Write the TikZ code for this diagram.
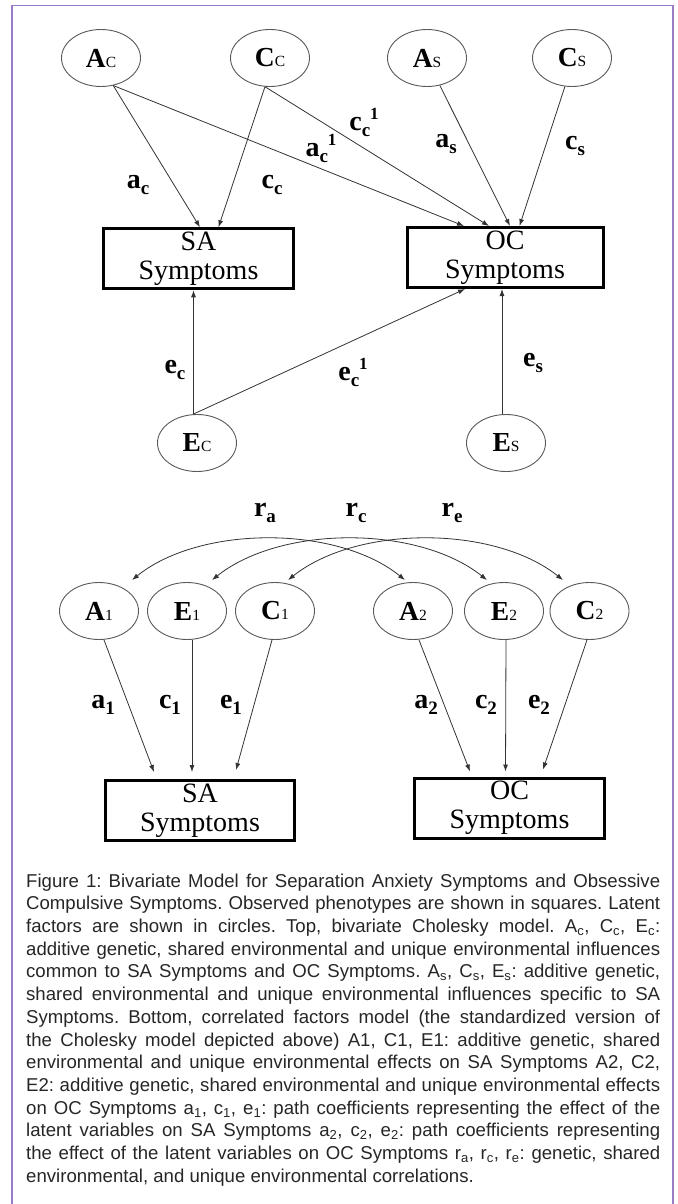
\documentclass[tikz,border=0pt]{standalone}
\usepackage{fontspec}
\setmainfont{Liberation Serif}
\newfontfamily\capfont{Liberation Sans}
\usepackage{tikz}
\usetikzlibrary{positioning}
\usetikzlibrary{shapes.geometric}
\usetikzlibrary{arrows.meta}
\usetikzlibrary{calc}

\definecolor{framepurple}{RGB}{152,124,202}

\newcommand{\latname}[2]{{\fontsize{27.5}{27.5}\selectfont\bfseries #1}{\fontsize{15.5}{15.5}\selectfont #2}}
\newcommand{\pathcoef}[3]{{\fontsize{28}{28}\selectfont\bfseries #1}\raisebox{-6pt}{\fontsize{19}{19}\selectfont\bfseries #2}\raisebox{11pt}{\fontsize{17}{17}\selectfont\bfseries #3}}

\begin{document}
\begin{tikzpicture}[x=1pt, y=-1pt,
    latent/.style={draw=black!65, line width=0.9pt, ellipse, minimum width=79pt, minimum height=57pt, inner sep=0pt},
    observed/.style={draw, line width=3pt, minimum width=190pt, minimum height=60pt, inner sep=0pt, align=center, font=\fontsize{28}{29}\selectfont},
    effect/.style={draw=black!80, line width=0.8pt, -{Latex[length=7pt,width=5pt]}},
    corr/.style={draw=black!80, line width=0.8pt, {Latex[length=7pt,width=5pt]}-{Latex[length=7pt,width=5pt]}},
    coef/.style={inner sep=0pt}]

    \useasboundingbox (0,0) rectangle (677,1204);
    \draw[framepurple, line width=1.3pt] (12,1210) -- (12,5.3) -- (673,5.3) -- (673,1210);

    % Cholesky model: nodes
    \node at (101,58) (Ac) [latent] {\latname{A}{C}};
    \node at (270,58) (Cc) [latent] {\latname{C}{C}};
    \node at (427,58) (As) [latent] {\latname{A}{S}};
    \node at (572,58) (Cs) [latent] {\latname{C}{S}};
    \node at (198.5,258.8) (SAtop) [observed] {SA\\Symptoms};
    \node at (505,257.5) (OCtop) [observed, minimum width=196pt] {OC\\Symptoms};
    \node at (197,443) (Ec) [latent] {\latname{E}{C}};
    \node at (506,443) (Es) [latent] {\latname{E}{S}};

    % Cholesky model: arrows
    \draw[effect] (Ac.-66) -- ([xshift=1.5pt]SAtop.north);
    \draw[effect] (Ac.-66) -- ([xshift=-41pt]OCtop.north);
    \draw[effect] (Cc.-100) -- ([xshift=20pt]SAtop.north);
    \draw[effect] (Cc.-100) -- ([xshift=-16pt]OCtop.north);
    \draw[effect] (As.-65) -- ([xshift=5pt]OCtop.north);
    \draw[effect] (Cs.-104) -- ([xshift=14.5pt]OCtop.north);
    \coordinate (ectop) at ([xshift=-3.5pt]Ec.north);
    \coordinate (estop) at ([xshift=-4pt]Es.north);
    \draw[effect] (ectop) -- (ectop |- SAtop.south);
    \draw[effect] (ectop) -- ([xshift=-40pt]OCtop.south);
    \draw[effect] (estop) -- (estop |- OCtop.south);

    % Cholesky model: path labels
    \node at (138,185) (lac) [coef] {\pathcoef{a}{c}{}};
    \node at (272,185) (lcc) [coef] {\pathcoef{c}{c}{}};
    \node at (321,148) (lac1) [coef] {\pathcoef{a}{c}{1}};
    \node at (364,122) (lcc1) [coef] {\pathcoef{c}{c}{1}};
    \node at (446,144) (las) [coef] {\pathcoef{a}{s}{}};
    \node at (575,146) (lcs) [coef] {\pathcoef{c}{s}{}};
    \node at (175,370) (lec) [coef] {\pathcoef{e}{c}{}};
    \node at (353,372) (lec1) [coef] {\pathcoef{e}{c}{1}};
    \node at (533,363) (les) [coef] {\pathcoef{e}{s}{}};

    % Correlated factors model: nodes
    \node at (99,611) (A1) [latent] {\latname{A}{1}};
    \node at (187,611) (E1) [latent] {\latname{E}{1}};
    \node at (275,611) (C1) [latent] {\latname{C}{1}};
    \node at (413,611) (A2) [latent] {\latname{A}{2}};
    \node at (504,611) (E2) [latent] {\latname{E}{2}};
    \node at (589.5,611) (C2) [latent] {\latname{C}{2}};
    \node at (200,810.5) (SAbot) [observed, minimum width=189.5pt] {SA\\Symptoms};
    \node at (509.5,808) (OCbot) [observed] {OC\\Symptoms};

    % Correlations
    \coordinate (A1r) at ($(A1.north)+(33,-2)$);
    \coordinate (A2r) at ($(A2.north)+(-8,-2)$);
    \coordinate (E1r) at ($(E1.north)+(25,-2)$);
    \coordinate (E2r) at ($(E2.north)+(-17,-2)$);
    \coordinate (C1r) at ($(C1.north)+(13,-2)$);
    \coordinate (C2r) at ($(C2.north)+(-26.5,-2)$);
    \draw[corr] (A1r) .. controls +(68,-55) and +(-68,-55) .. (A2r);
    \draw[corr] (E1r) .. controls +(69,-55) and +(-69,-55) .. (E2r);
    \draw[corr] (C1r) .. controls +(69,-55) and +(-69,-55) .. (C2r);
    \node at (265,513) (lra) [coef] {\pathcoef{r}{a}{}};
    \node at (356,513) (lrc) [coef] {\pathcoef{r}{c}{}};
    \node at (452,513) (lre) [coef] {\pathcoef{r}{e}{}};

    % Correlated factors model: arrows
    \draw[effect] ([xshift=5pt]A1.south) -- ($(SAbot.north)+(-46,-7)$);
    \draw[effect] ([xshift=5pt]E1.south) -- ($(SAbot.north)+(-8,-7)$);
    \draw[effect] ([xshift=-3pt]C1.south) -- ($(SAbot.north)+(36,-9)$);
    \draw[effect] ([xshift=6pt]A2.south) -- ($(OCbot.north)+(-39.5,-5)$);
    \draw[effect] ([xshift=2pt]E2.south) -- ($(OCbot.north)+(-4,-5)$);
    \draw[effect] ([xshift=-2.5pt]C2.south) -- ($(OCbot.north)+(33.5,-7)$);
    \node at (103,705) (la1) [coef] {\pathcoef{a}{1}{}};
    \node at (170,705) (lc1) [coef] {\pathcoef{c}{1}{}};
    \node at (231,705) (le1) [coef] {\pathcoef{e}{1}{}};
    \node at (426,705) (la2) [coef] {\pathcoef{a}{2}{}};
    \node at (486,705) (lc2) [coef] {\pathcoef{c}{2}{}};
    \node at (539,705) (le2) [coef] {\pathcoef{e}{2}{}};

    % Caption
    \node at (26,871) (caption) [anchor=north west, inner sep=0pt, text width=634pt, align=justify, text=black!85,
        font=\capfont\fontsize{18.6}{22.7}\selectfont] {\frenchspacing\tolerance=10000\hbadness=10000\strut
        Figure 1: Bivariate Model for Separation Anxiety Symptoms and Obsessive\linebreak
        Compulsive Symptoms. Observed phenotypes are shown in squares. Latent\linebreak
        factors are shown in circles. Top, bivariate Cholesky model. A\textsubscript{c}, C\textsubscript{c}, E\textsubscript{c}:\linebreak
        additive genetic, shared environmental and unique environmental influences\linebreak
        common to SA Symptoms and OC Symptoms. A\textsubscript{s}, C\textsubscript{s}, E\textsubscript{s}: additive genetic,\linebreak
        shared environmental and unique environmental influences specific to SA\linebreak
        Symptoms. Bottom, correlated factors model (the standardized version of\linebreak
        the Cholesky model depicted above) A1, C1, E1: additive genetic, shared\linebreak
        environmental and unique environmental effects on SA Symptoms A2, C2,\linebreak
        E2: additive genetic, shared environmental and unique environmental effects\linebreak
        on OC Symptoms a\textsubscript{1}, c\textsubscript{1}, e\textsubscript{1}: path coefficients representing the effect of the\linebreak
        latent variables on SA Symptoms a\textsubscript{2}, c\textsubscript{2}, e\textsubscript{2}: path coefficients representing\linebreak
        the effect of the latent variables on OC Symptoms r\textsubscript{a}, r\textsubscript{c}, r\textsubscript{e}: genetic, shared\linebreak
        environmental, and unique environmental correlations.};

\end{tikzpicture}
\end{document}
